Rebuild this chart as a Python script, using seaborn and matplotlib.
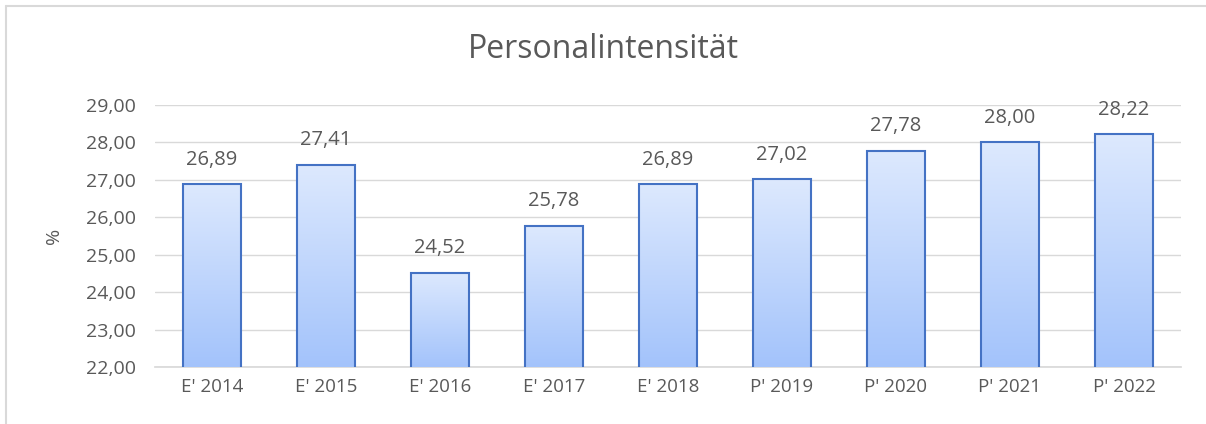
import numpy as np
import pandas as pd
import matplotlib
matplotlib.use("Agg")
import matplotlib.pyplot as plt
import seaborn as sns
from matplotlib.colors import LinearSegmentedColormap

categories = ["E' 2014", "E' 2015", "E' 2016", "E' 2017", "E' 2018", "P' 2019", "P' 2020", "P' 2021", "P' 2022"]
values = [26.89, 27.41, 24.52, 25.78, 26.89, 27.02, 27.78, 28.00, 28.22]
yticks = [22, 23, 24, 25, 26, 27, 28, 29]

sns.set_theme(style="white")
plt.rcParams['font.family'] = ['Open Sans', 'DejaVu Sans']
grey = "#595959"

fig = plt.figure(figsize=(12.06, 4.24), dpi=100)
ax = fig.add_axes([155/1206, 1 - 367/424, (1181-155)/1206, (367-105)/424])

df = pd.DataFrame({"cat": categories, "val": values})
sns.barplot(data=df, x="cat", y="val", ax=ax, width=0.51, color="#c0d6fc",
            edgecolor="#4472C4", linewidth=1.5, zorder=3)
ax.set_ylim(22, 29)
ax.set_xlim(-0.5, len(categories) - 0.5)

cmap = LinearSegmentedColormap.from_list("g", ["#a3c3fb", "#dde9fe"])
grad = np.linspace(0, 1, 256).reshape(-1, 1)
for p in ax.patches:
    x0, y0 = p.get_x(), p.get_y()
    w, h = p.get_width(), p.get_height()
    im = ax.imshow(grad, cmap=cmap, origin="lower", aspect="auto",
                   extent=[x0, x0 + w, 22, y0 + h], zorder=2.5)
    im.set_clip_path(p)
    p.set_facecolor("none")

for i, v in enumerate(values):
    ax.text(i, v + 0.38, f"{v:.2f}".replace(".", ","), ha="center", va="bottom",
            fontsize=14.5, color=grey, zorder=4)

ax.set_yticks(yticks)
ax.set_yticklabels([f"{t:.2f}".replace(".", ",") for t in yticks], fontsize=14, color=grey)
ax.tick_params(axis="x", labelsize=13.5, colors=grey, length=0, pad=8)
ax.tick_params(axis="y", length=0, pad=14)
ax.yaxis.grid(True, color="#d9d9d9", linewidth=1, zorder=0)
ax.set_axisbelow(True)
for s in ["top", "right", "left"]:
    ax.spines[s].set_visible(False)
ax.spines["bottom"].set_color("#d9d9d9")
ax.spines["bottom"].set_zorder(1)
ax.set_xlabel("")
ax.set_ylabel("%", fontsize=14, color=grey, labelpad=16)

fig.text(0.5, 1 - 50/424, "Personalintensität", ha="center", va="center",
         fontsize=23, color=grey)

# outer chart border (left and top visible)
fig.add_artist(plt.Line2D([6/1206, 6/1206], [0, 1 - 6/424], transform=fig.transFigure, color="#d9d9d9", lw=1.5))
fig.add_artist(plt.Line2D([6/1206, 1], [1 - 6/424, 1 - 6/424], transform=fig.transFigure, color="#d9d9d9", lw=1.5))

fig.savefig("out.png", dpi=100)
